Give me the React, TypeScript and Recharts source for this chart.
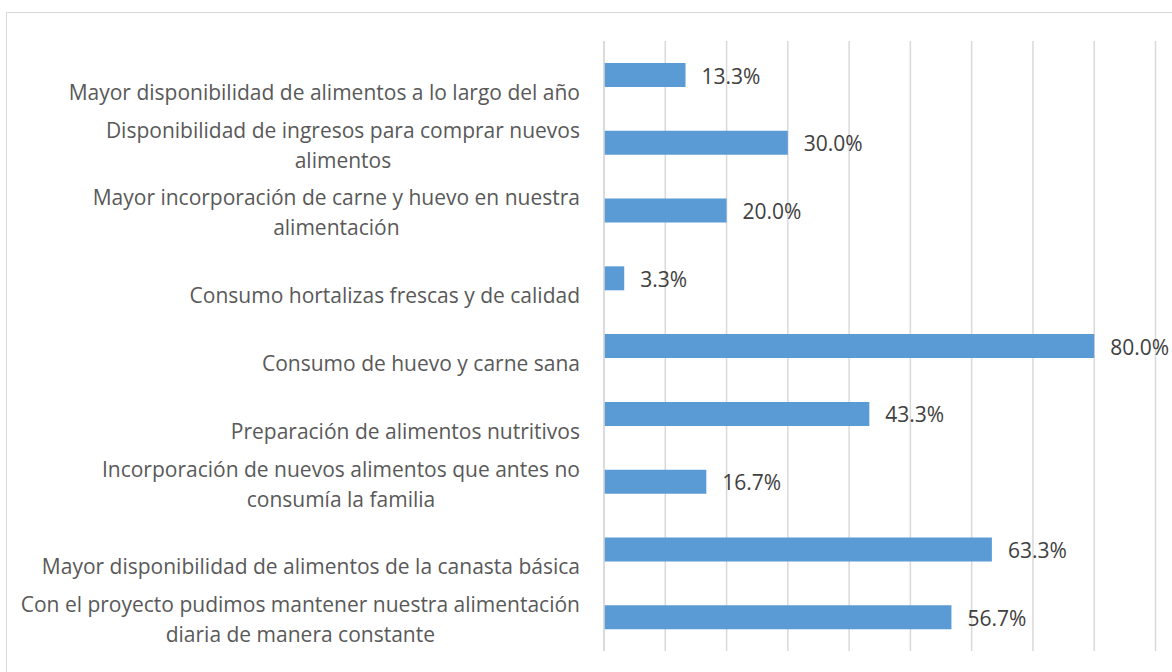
import { Bar, BarChart, CartesianGrid, LabelList, XAxis, YAxis } from 'recharts';

const categories = [
  ['Mayor disponibilidad de alimentos a lo largo del año'],
  ['Disponibilidad de ingresos para comprar nuevos', 'alimentos'],
  ['Mayor incorporación de carne y huevo en nuestra', 'alimentación'],
  ['Consumo hortalizas frescas y de calidad'],
  ['Consumo de huevo y carne sana'],
  ['Preparación de alimentos nutritivos'],
  ['Incorporación de nuevos alimentos que antes no', 'consumía la familia'],
  ['Mayor disponibilidad de alimentos de la canasta básica'],
  ['Con el proyecto pudimos mantener nuestra alimentación', 'diaria de manera constante'],
];

const percentages = [13.3, 30.0, 20.0, 3.3, 80.0, 43.3, 16.7, 63.3, 56.7];

const xTicks = [0, 10, 20, 30, 40, 50, 60, 70, 80, 90];

const FONT = '"Open Sans", Lato, sans-serif';
const FONT_SIZE = 21;

const data = categories.map((lines, i) => ({
  name: lines.join(' '),
  lines,
  value: percentages[i],
}));

let ctx: CanvasRenderingContext2D | null = null;
function measure(text: string) {
  if (!ctx) ctx = document.createElement('canvas').getContext('2d');
  if (!ctx) return text.length * 10;
  ctx.font = `${FONT_SIZE}px "Open Sans"`;
  return ctx.measureText(text).width;
}

function CategoryTick(props: any) {
  const { x, y, index } = props;
  const lines: string[] = data[index]?.lines ?? [String(props.payload?.value)];
  const textProps = { fontFamily: FONT, fontSize: FONT_SIZE, fill: '#595959' };
  if (lines.length === 1) {
    return (
      <text x={x} y={y + 25} textAnchor="end" {...textProps}>
        {lines[0]}
      </text>
    );
  }
  const w = measure(lines[0]);
  return (
    <g>
      <text x={x} y={y - 5} textAnchor="end" {...textProps}>
        {lines[0]}
      </text>
      <text x={x - w / 2} y={y + 25} textAnchor="middle" {...textProps}>
        {lines[1]}
      </text>
    </g>
  );
}

function ValueLabel(props: any) {
  const { x, y, width, height, value } = props;
  return (
    <text
      x={x + width + 16}
      y={y + height / 2 + 8.5}
      fontFamily={FONT}
      fontSize={FONT_SIZE}
      fill="#404040"
    >
      {`${Number(value).toFixed(1)}%`}
    </text>
  );
}

export default function App() {
  return (
    <div
      style={{
        position: 'absolute',
        left: 0,
        top: 0,
        width: 1172,
        height: 672,
        overflow: 'hidden',
        background: '#fff',
      }}
    >
      <div
        style={{
          position: 'absolute',
          left: 6,
          top: 12,
          width: 1200,
          height: 700,
          border: '1.5px solid #d9d9d9',
        }}
      />
      <div style={{ position: 'absolute', left: 0, top: 0 }}>
        <BarChart
          width={1172}
          height={672}
          data={data}
          layout="vertical"
          margin={{ top: 41, right: 16.5, left: 0, bottom: 21 }}
        >
          <CartesianGrid horizontal={false} stroke="#d9d9d9" strokeWidth={1.5} />
          <XAxis
            type="number"
            domain={[0, 90]}
            ticks={xTicks}
            tick={() => <g />}
            axisLine={false}
            tickLine={false}
            height={0}
          />
          <YAxis
            type="category"
            dataKey="name"
            width={604}
            tick={<CategoryTick />}
            tickLine={false}
            tickSize={0}
            tickMargin={24}
            axisLine={{ stroke: '#d9d9d9', strokeWidth: 1.5 }}
            interval={0}
          />
          <Bar dataKey="value" fill="#5b9bd5" barSize={24} isAnimationActive={false}>
            <LabelList dataKey="value" content={<ValueLabel />} />
          </Bar>
        </BarChart>
      </div>
    </div>
  );
}
